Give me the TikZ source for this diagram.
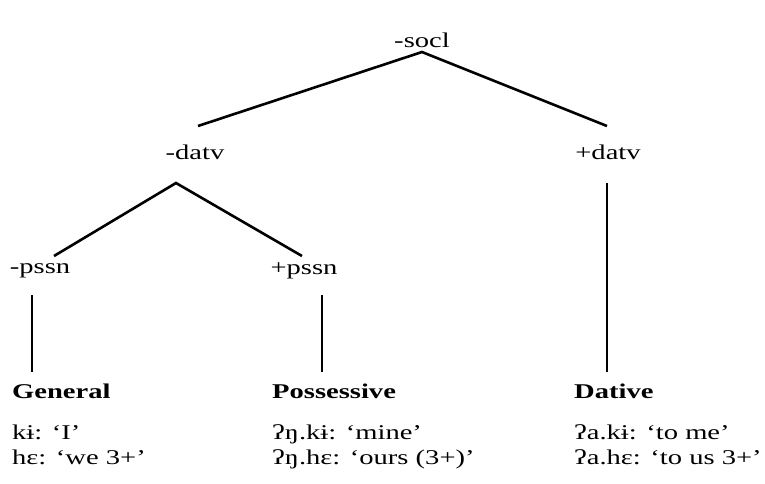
\documentclass[tikz,border=0pt]{standalone}
\usepackage{fontspec}
\setmainfont{Liberation Serif}[FakeStretch=1.36]
\begin{document}
\begin{tikzpicture}[x=1pt,y=-1pt,
  feat/.style={font=\fontsize{21}{25}\selectfont, inner sep=0pt},
  head/.style={font=\fontsize{21}{25}\selectfont\bfseries, inner sep=0pt, anchor=base west},
  form/.style={font=\fontsize{21}{25}\selectfont, inner sep=0pt, anchor=base west},
  branch/.style={line width=2.6pt, line join=miter},
  stem/.style={line width=1.8pt}]
\useasboundingbox (0,0) rectangle (765,483);

% feature labels
\node[feat] (socl)  at (422,40)  {-socl};
\node[feat] (datvm) at (195,152) {-datv};
\node[feat] (datvp) at (608,152) {+datv};
\node[feat] (pssnm) at (40,271)  {-pssn};
\node[feat] (pssnp) at (304,271) {+pssn};

% branching points and line ends
\coordinate (socl-foot)  at (422,52);
\coordinate (datvm-top)  at (198,126);
\coordinate (datvp-top)  at (607,126);
\coordinate (datvm-foot) at (176,183);
\coordinate (pssnm-top)  at (54,256);
\coordinate (pssnp-top)  at (302,256);
\coordinate (pssnm-foot) at (32,295);
\coordinate (pssnp-foot) at (322,295);
\coordinate (datvp-foot) at (607,183);

% case paradigms
\node[head] (gen)  at (12,398)  {General};
\node[form] (gen1) at (12,439)  {kɨ: ‘I’};
\node[form] (gen2) at (12,464)  {hɛ: ‘we 3+’};

\node[head] (pos)  at (272,398) {Possessive};
\node[form] (pos1) at (272,439) {ʔŋ.kɨ: ‘mine’};
\node[form] (pos2) at (272,464) {ʔŋ.hɛ: ‘ours (3+)’};

\node[head] (dat)  at (574,398) {Dative};
\node[form] (dat1) at (574,439) {ʔa.kɨ: ‘to me’};
\node[form] (dat2) at (574,464) {ʔa.hɛ: ‘to us 3+’};

\coordinate (gen-top) at (32,372);
\coordinate (pos-top) at (322,372);
\coordinate (dat-top) at (607,372);

% tree
\draw[branch] (datvm-top) -- (socl-foot) -- (datvp-top);
\draw[branch] (pssnm-top) -- (datvm-foot) -- (pssnp-top);
\draw[stem] (pssnm-foot) -- (gen-top);
\draw[stem] (pssnp-foot) -- (pos-top);
\draw[stem] (datvp-foot) -- (dat-top);
\end{tikzpicture}
\end{document}
